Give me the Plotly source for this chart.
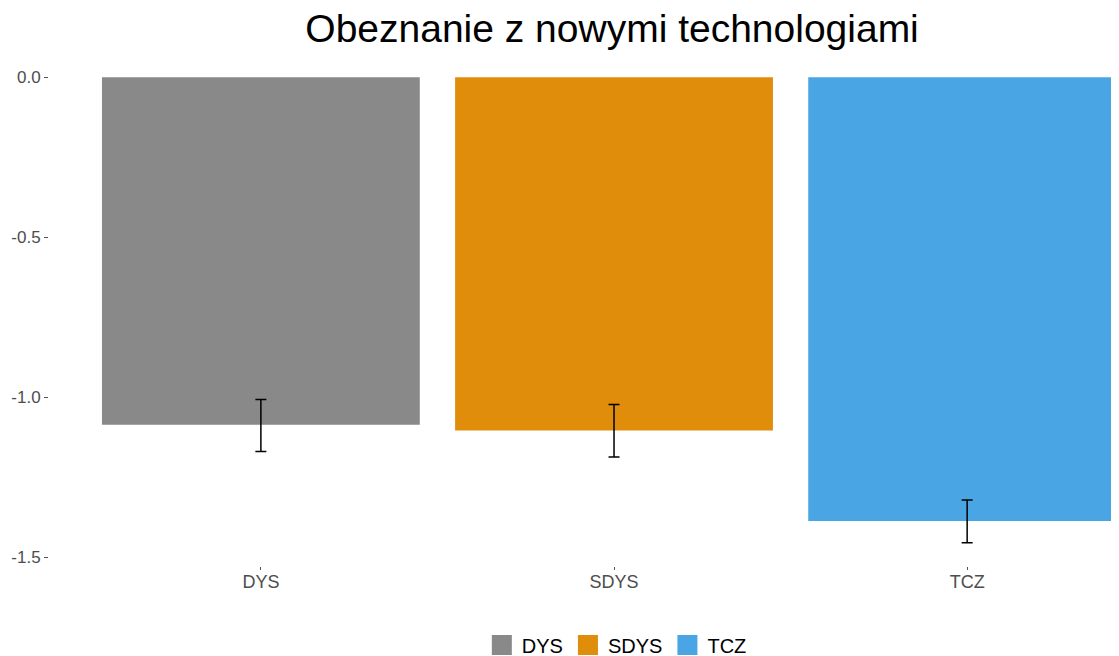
import plotly.graph_objects as go

groups = ["DYS", "SDYS", "TCZ"]
means = [-1.086, -1.104, -1.387]
err_lo = [-1.170, -1.187, -1.455]
err_hi = [-1.007, -1.023, -1.322]
colors = ["#898989", "#DF8D0A", "#49A5E3"]
y_ticks = [0.0, -0.5, -1.0, -1.5]
y_tick_labels = ["0.0", "-0.5", "-1.0", "-1.5"]

fig = go.Figure()
for g, m, lo, hi, c in zip(groups, means, err_lo, err_hi, colors):
    fig.add_trace(go.Bar(
        x=[g], y=[m], name=g, width=0.9, showlegend=False,
        marker=dict(color=c, line=dict(width=0)),
        error_y=dict(type="data", symmetric=False,
                     array=[hi - m], arrayminus=[m - lo],
                     color="black", thickness=1.5, width=5.5),
    ))

# legend-only entries with larger square keys
for g, c in zip(groups, colors):
    fig.add_trace(go.Scatter(
        x=[None], y=[None], name=g, mode="markers",
        marker=dict(symbol="square", size=16, color=c, line=dict(width=4, color=c)),
    ))

# the page body has an 8px margin, so the figure is shifted by 8px
fig.update_layout(
    width=1111, height=648,
    margin=dict(l=41, r=0, t=46, b=90),
    paper_bgcolor="white", plot_bgcolor="white",
    font=dict(family="Liberation Sans, Arial, sans-serif", size=18, color="#4d4d4d"),
    title=dict(text="Obeznanie z nowymi technologiami", xref="container", x=0.5437,
               xanchor="center", yref="container", y=0.968, yanchor="middle",
               font=dict(size=39, color="black")),
    barmode="overlay",
    showlegend=True,
    legend=dict(orientation="h", xref="container", x=0.548, xanchor="center",
                yref="container", y=0.017, yanchor="middle",
                font=dict(size=20, color="black"), itemwidth=30, traceorder="normal"),
    xaxis=dict(range=[-0.6, 2.43], showgrid=False, zeroline=False, showline=False,
               ticks="outside", ticklen=3, tickcolor="#555", ticklabelstandoff=-4,
               tickfont=dict(size=18, color="#4d4d4d")),
    yaxis=dict(range=[-1.528, 0.073], showgrid=False, zeroline=False, showline=False,
               tickvals=y_ticks, ticktext=y_tick_labels,
               ticks="outside", ticklen=4, tickcolor="#555",
               tickfont=dict(size=17, color="#4d4d4d")),
)

fig.write_html("out.html")
